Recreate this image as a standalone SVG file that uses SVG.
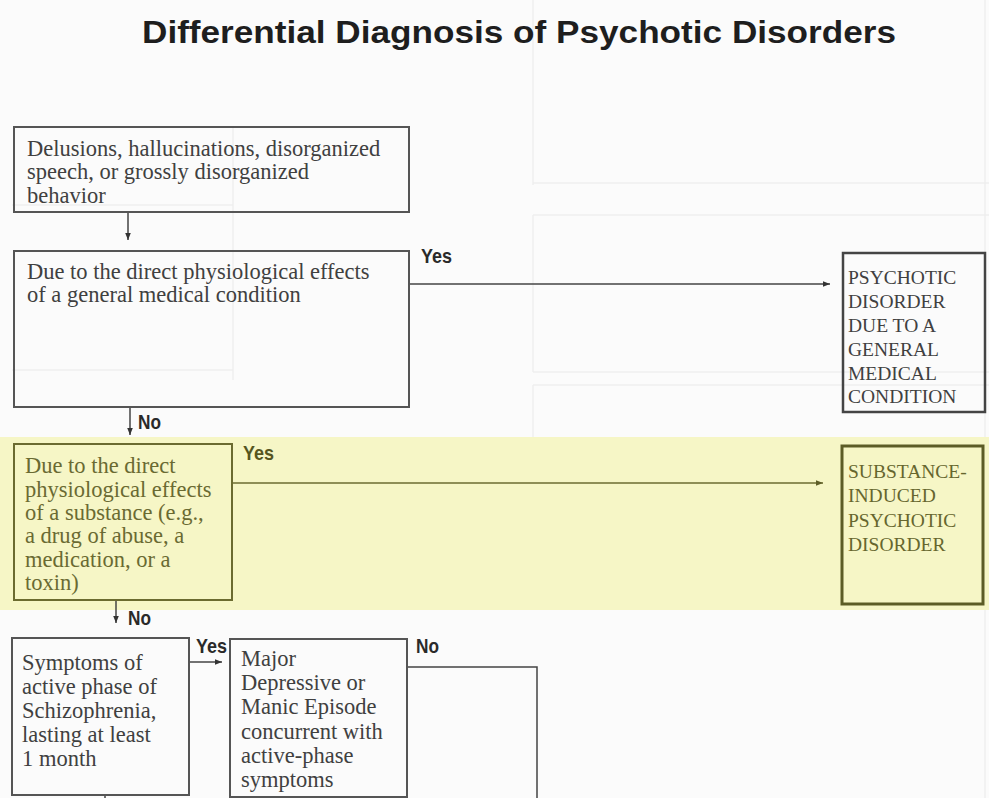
<svg xmlns="http://www.w3.org/2000/svg" width="989" height="798" viewBox="0 0 989 798">
<defs>
<marker id="ah" viewBox="0 0 10 10" refX="10" refY="5" markerWidth="7" markerHeight="7" markerUnits="userSpaceOnUse" orient="auto">
<path d="M0,1 L10,5 L0,9 z" fill="#333"/>
</marker>
<marker id="aho" viewBox="0 0 10 10" refX="10" refY="5" markerWidth="7" markerHeight="7" markerUnits="userSpaceOnUse" orient="auto">
<path d="M0,1 L10,5 L0,9 z" fill="#5e5e28"/>
</marker>
<style>
.box{fill:none;stroke:#555;stroke-width:2}
.obox{fill:none;stroke:#6b6b30;stroke-width:2}
.body{font-family:"Liberation Serif","Times New Roman",serif;font-size:22.5px;fill:#404040}
.obody{font-family:"Liberation Serif","Times New Roman",serif;font-size:22.5px;fill:#6a6a32}
.caps{font-family:"Liberation Serif","Times New Roman",serif;font-size:19.5px;fill:#404040}
.ocaps{font-family:"Liberation Serif","Times New Roman",serif;font-size:19.5px;fill:#66662e}
.lbl{font-family:"Liberation Sans",Arial,sans-serif;font-weight:bold;font-size:21px;fill:#2a2a2a}
.olbl{font-family:"Liberation Sans",Arial,sans-serif;font-weight:bold;font-size:21px;fill:#55551f}
.conn{fill:none;stroke:#444;stroke-width:1.5}
.oconn{fill:none;stroke:#6b6b30;stroke-width:1.5}
.ghost{fill:none;stroke:#efefef;stroke-width:1.5}
</style>
</defs>
<rect x="0" y="0" width="989" height="798" fill="#fbfbfb"/>
<g id="ghost">
<path class="ghost" d="M533,0 V185 M533,215 V372 M533,385 V585 M533,183 H989 M533,215 H989 M533,372 H989 M533,385 H989 M533,585 H989 M233,128 V380 M12,205 H233 M12,370 H233 M985,0 V798"/>
</g>
<rect id="highlight" x="0" y="437" width="989" height="173" fill="#f6f6c6"/>
<text id="title" x="142" y="43" font-family="'Liberation Sans',Arial,sans-serif" font-weight="bold" font-size="31" fill="#1e1e1e" textLength="754" lengthAdjust="spacingAndGlyphs">Differential Diagnosis of Psychotic Disorders</text>
<g id="connectors">
<path class="conn" d="M128,212 V240" marker-end="url(#ah)"/>
<path class="conn" d="M409,284 H830" marker-end="url(#ah)"/>
<path class="conn" d="M130,407 V435" marker-end="url(#ah)"/>
<path class="oconn" d="M232,483 H823" marker-end="url(#aho)"/>
<path class="conn" d="M116,600 V623" marker-end="url(#ah)"/>
<path class="conn" d="M189,662 H222" marker-end="url(#ah)"/>
<path class="conn" d="M407,667 H537 V798"/>
<path class="conn" d="M105,795 V798 M318,797 V798"/>
<text class="lbl" x="421" y="263" textLength="31" lengthAdjust="spacingAndGlyphs">Yes</text>
<text class="lbl" x="138" y="429" textLength="23" lengthAdjust="spacingAndGlyphs">No</text>
<text class="olbl" x="243" y="460" textLength="31" lengthAdjust="spacingAndGlyphs">Yes</text>
<text class="lbl" x="128" y="625" textLength="23" lengthAdjust="spacingAndGlyphs">No</text>
<text class="lbl" x="196" y="653" textLength="31" lengthAdjust="spacingAndGlyphs">Yes</text>
<text class="lbl" x="416" y="653" textLength="23" lengthAdjust="spacingAndGlyphs">No</text>
</g>
<g id="n1">
<rect class="box" x="14" y="127" width="395" height="85"/>
<text class="body" x="27" y="156">Delusions, hallucinations, disorganized</text>
<text class="body" x="27" y="179">speech, or grossly disorganized</text>
<text class="body" x="27" y="203">behavior</text>
</g>
<g id="n2">
<rect class="box" x="14" y="251" width="395" height="156"/>
<text class="body" x="27" y="279">Due to the direct physiological effects</text>
<text class="body" x="27" y="302">of a general medical condition</text>
</g>
<g id="n3">
<rect class="box" x="843" y="253" width="142" height="159" style="stroke:#444;stroke-width:2.5"/>
<text class="caps" x="848" y="284">PSYCHOTIC</text>
<text class="caps" x="848" y="308">DISORDER</text>
<text class="caps" x="848" y="332">DUE TO A</text>
<text class="caps" x="848" y="356">GENERAL</text>
<text class="caps" x="848" y="380">MEDICAL</text>
<text class="caps" x="848" y="403">CONDITION</text>
</g>
<g id="n4">
<rect class="obox" x="14" y="444" width="218" height="156"/>
<text class="obody" x="25" y="473">Due to the direct</text>
<text class="obody" x="25" y="497">physiological effects</text>
<text class="obody" x="25" y="520">of a substance (e.g.,</text>
<text class="obody" x="25" y="543">a drug of abuse, a</text>
<text class="obody" x="25" y="567">medication, or a</text>
<text class="obody" x="25" y="590">toxin)</text>
</g>
<g id="n5">
<rect class="obox" x="842" y="446" width="141" height="158" style="stroke:#5c5c26;stroke-width:3"/>
<text class="ocaps" x="848" y="478">SUBSTANCE-</text>
<text class="ocaps" x="848" y="502">INDUCED</text>
<text class="ocaps" x="848" y="527">PSYCHOTIC</text>
<text class="ocaps" x="848" y="551">DISORDER</text>
</g>
<g id="n6">
<rect class="box" x="12" y="638" width="177" height="157"/>
<text class="body" x="22" y="670">Symptoms of</text>
<text class="body" x="22" y="694">active phase of</text>
<text class="body" x="22" y="718">Schizophrenia,</text>
<text class="body" x="22" y="742">lasting at least</text>
<text class="body" x="22" y="766">1 month</text>
</g>
<g id="n7">
<rect class="box" x="230" y="639" width="177" height="158"/>
<text class="body" x="241" y="666">Major</text>
<text class="body" x="241" y="690">Depressive or</text>
<text class="body" x="241" y="714">Manic Episode</text>
<text class="body" x="241" y="739">concurrent with</text>
<text class="body" x="241" y="763">active-phase</text>
<text class="body" x="241" y="787">symptoms</text>
</g>
</svg>
